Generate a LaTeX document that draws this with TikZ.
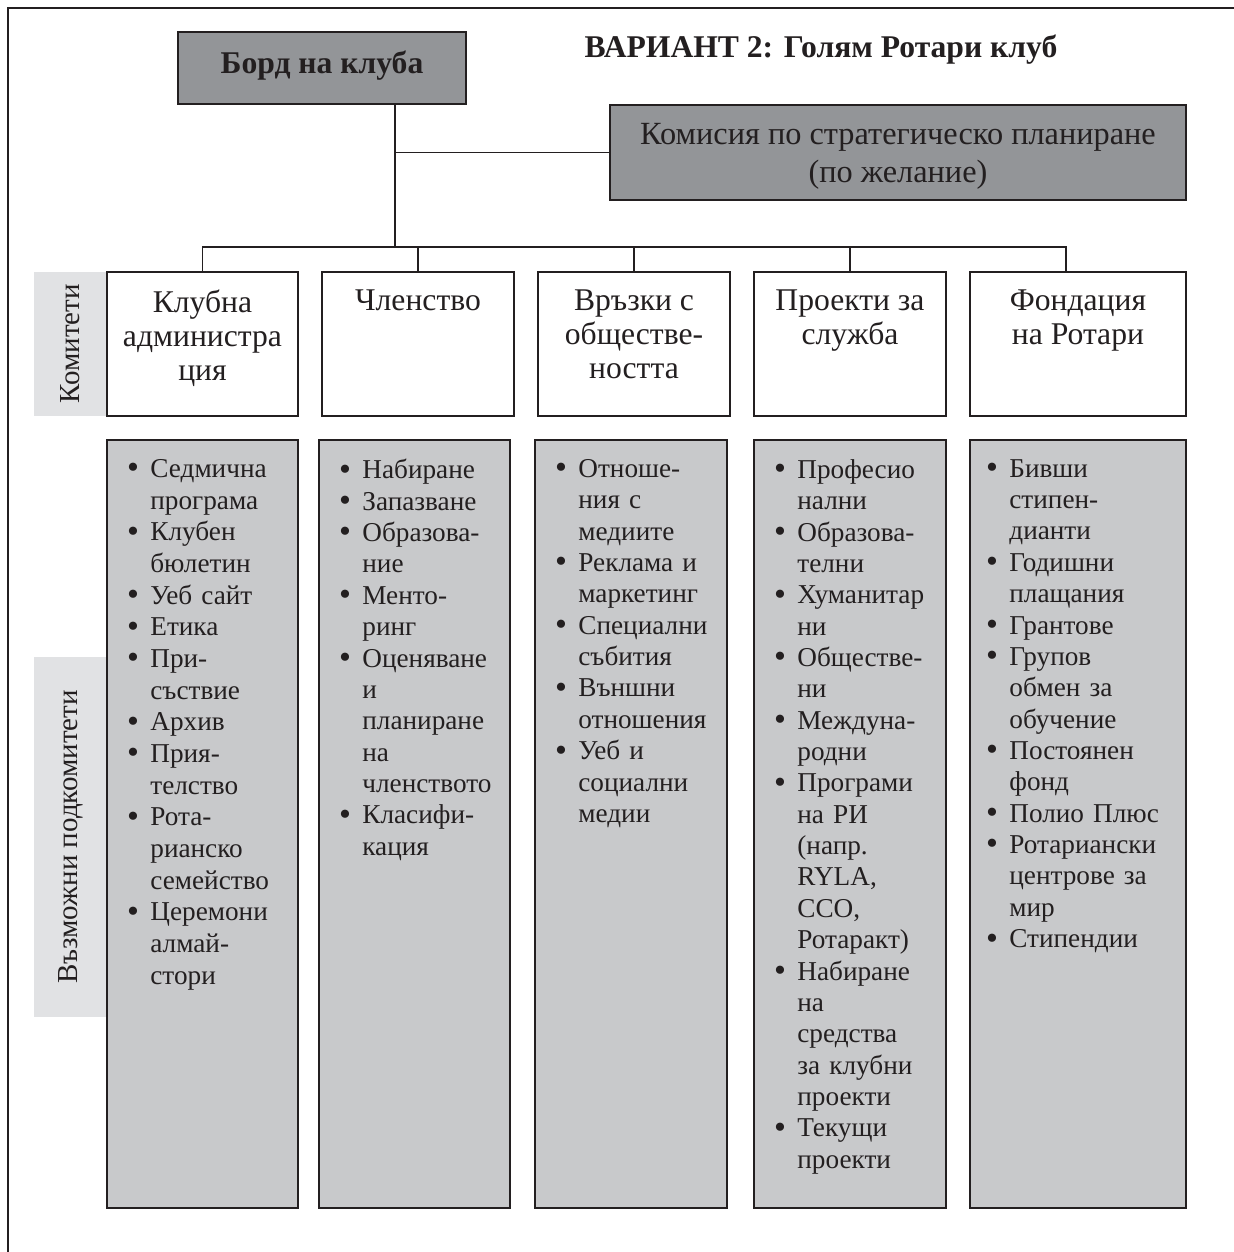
\documentclass[tikz,border=0pt]{standalone}
\usepackage{fontspec}
\setmainfont{Liberation Serif}
\usetikzlibrary{positioning}

\definecolor{ink}{HTML}{231F20}
\definecolor{boardgray}{HTML}{939598}
\definecolor{subgray}{HTML}{C8C9CB}
\definecolor{tabgray}{HTML}{E1E2E4}

\newcommand{\pxl}{0.02cm}
\newcommand{\bul}{\leavevmode\llap{\raisebox{-0.05em}{\scalebox{1.25}{\textbullet}}\hspace{6.5pt}}}

\tikzset{
  rule/.style={draw=ink, line width=1.1pt},
  darkbox/.style={draw=ink, line width=1.1pt, fill=boardgray, inner sep=0pt, text=ink},
  combox/.style={draw=ink, line width=1.1pt, fill=white, minimum height=144*\pxl, inner sep=0pt},
  subbox/.style={draw=ink, line width=1.1pt, fill=subgray, minimum height=768*\pxl, inner sep=0pt},
  comtext/.style={anchor=north, align=center, inner sep=0pt, text=ink,
    font=\fontsize{18}{19.5}\selectfont},
  subtext/.style={anchor=north west, align=left, inner sep=0pt, text=ink,
    text width=175*\pxl, font=\fontsize{15.5}{17.85}\selectfont},
  tab/.style={fill=tabgray, inner sep=0pt, rotate=90, minimum height=73*\pxl, text=ink,
    font=\fontsize{16.5}{18}\selectfont},
}

\begin{document}
\begin{tikzpicture}[x=\pxl, y=-\pxl]
    \useasboundingbox (0,0) rectangle (1234,1252);

    % Frame
    \draw[rule] (8,1252) -- (8,8) -- (1234,8);

    % Title and top boxes
    \node[text=ink, font=\bfseries\fontsize{18}{20}\selectfont] (title) at (821,50) {ВАРИАНТ 2: Голям Ротари клуб};
    \node[darkbox, minimum width=288*\pxl, minimum height=72*\pxl] (board) at (322,68) {};
    \node[text=ink, inner sep=0pt, font=\bfseries\fontsize{18}{20}\selectfont] (boardlbl) at (322,66) {Борд на клуба};
    \node[darkbox, minimum width=576*\pxl, minimum height=95*\pxl] (comm) at (898,152.5) {};
    \node[text=ink, inner sep=0pt, align=center, font=\fontsize{18.4}{21.5}\selectfont]
      (commlbl) at (898,156.5) {Комисия по стратегическо планиране\\(по желание)};

    % Side tabs
    \node[tab, minimum width=144*\pxl] (tabcom) at (70.5,344) {Комитети};
    \node[tab, minimum width=360*\pxl] (tabsub) at (70.5,837) {Възможни подкомитети};

    % Committees
    \foreach \n/\cx/\w/\txt in {1/202.5/191/{Клубна\\администра\\ция},
                               2/418/192/{Членство},
                               3/634/192/{Връзки с\\обществе-\\ността},
                               4/850/192/{Проекти за\\служба},
                               5/1078/216/{Фондация\\на Ротари}} {
        \node[combox, minimum width=\w*\pxl] (com\n) at (\cx,344) {};
        \node[comtext] (comlbl\n) at (\cx,289) {\txt};
    }

    % Sub-committee boxes
    \foreach \n/\cx/\w in {1/202.5/191, 2/414.5/191, 3/631/192, 4/850/192, 5/1078/216} {
        \node[subbox, minimum width=\w*\pxl] (sub\n) at (\cx,824) {};
    }

    % Connectors
    \coordinate (trunk) at ([xshift=73*\pxl]board.south);
    \coordinate (bus) at (trunk |- 0,247);
    \draw[rule] (trunk) -- (bus);
    \draw[rule] (trunk |- comm.west) -- (comm.west);
    \draw[rule] (com1.north) |- (bus) -| ([xshift=-12*\pxl]com5.north);
    \foreach \n in {2,3,4} {
        \draw[rule] (com\n.north) -- (com\n.north |- bus);
    }

    % Lists
    \node[subtext, font=\fontsize{15.5}{18.03}\selectfont] (list1) at ([xshift=44*\pxl, yshift=-20*\pxl]sub1.north west)
      {\bul Седмична\\програма\\\bul Клубен\\бюлетин\\\bul Уеб сайт\\\bul Етика\\\bul При-\\съствие\\\bul Архив\\\bul Прия-\\телство\\\bul Рота-\\рианско\\семейство\\\bul Церемони\\алмай-\\стори};
    \node[subtext] (list2) at ([xshift=44*\pxl, yshift=-20*\pxl]sub2.north west)
      {\bul Набиране\\\bul Запазване\\\bul Образова-\\ние\\\bul Менто-\\ринг\\\bul Оценяване\\и\\планиране\\на\\членството\\\bul Класифи-\\кация};
    \node[subtext] (list3) at ([xshift=44*\pxl, yshift=-20*\pxl]sub3.north west)
      {\bul Отноше-\\ния с\\медиите\\\bul Реклама и\\маркетинг\\\bul Специални\\събития\\\bul Външни\\отношения\\\bul Уеб и\\социални\\медии};
    \node[subtext] (list4) at ([xshift=44*\pxl, yshift=-20*\pxl]sub4.north west)
      {\bul Професио\\нални\\\bul Образова-\\телни\\\bul Хуманитар\\ни\\\bul Обществе-\\ни\\\bul Междуна-\\родни\\\bul Програми\\на РИ\\(напр.\\RYLA,\\CCO,\\Ротаракт)\\\bul Набиране\\на\\средства\\за клубни\\проекти\\\bul Текущи\\проекти};
    \node[subtext] (list5) at ([xshift=40*\pxl, yshift=-20*\pxl]sub5.north west)
      {\bul Бивши\\стипен-\\дианти\\\bul Годишни\\плащания\\\bul Грантове\\\bul Групов\\обмен за\\обучение\\\bul Постоянен\\фонд\\\bul Полио Плюс\\\bul Ротариански\\центрове за\\мир\\\bul Стипендии};
\end{tikzpicture}
\end{document}
